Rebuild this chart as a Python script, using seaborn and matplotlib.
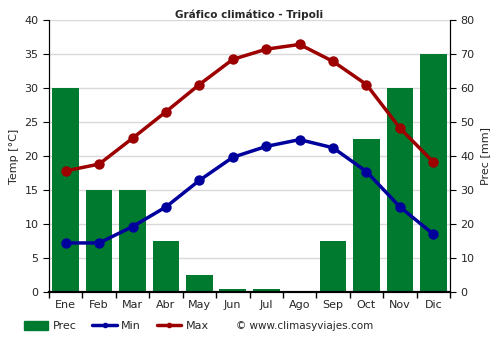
import matplotlib
matplotlib.use("Agg")
import matplotlib.pyplot as plt
import seaborn as sns
import pandas as pd
import numpy as np
from matplotlib.patches import Patch
from matplotlib.lines import Line2D

months = ["Ene", "Feb", "Mar", "Abr", "May", "Jun", "Jul", "Ago", "Sep", "Oct", "Nov", "Dic"]
prec = [60, 30, 30, 15, 5, 1, 1, 0, 15, 45, 60, 70]
tmin = [7.2, 7.2, 9.6, 12.5, 16.4, 19.8, 21.4, 22.4, 21.2, 17.7, 12.5, 8.5]
tmax = [17.8, 18.8, 22.6, 26.5, 30.5, 34.2, 35.7, 36.4, 33.9, 30.5, 24.1, 19.1]

df = pd.DataFrame({"Mes": months, "Prec": prec, "Min": tmin, "Max": tmax})

sns.set_style("white")
plt.rcParams["font.family"] = ["DejaVu Sans"]

fig = plt.figure(figsize=(5, 3.5), dpi=100)
ax_t = fig.add_axes([0.098, 0.166, 0.802, 0.777])
ax_p = ax_t.twinx()

green = "#007a2f"
blue = "#00009c"
red = "#9c0000"

# bars on prec axis (drawn below)
sns.barplot(data=df, x="Mes", y="Prec", ax=ax_p, color=green, width=0.8,
            saturation=1, order=months, linewidth=0, edgecolor=green)
ax_p.set_ylim(0, 80)
ax_p.set_yticks(np.arange(0, 81, 10))
ax_p.set_ylabel("Prec [mm]", fontsize=8)
ax_p.set_axisbelow(True)
ax_p.yaxis.grid(True, color="#d9d9d9", lw=1)
ax_p.set_xticks(np.arange(-0.5, 12, 1), minor=True)
ax_p.xaxis.grid(True, which="minor", color="#d9d9d9", lw=1)

# lines on temp axis (drawn above)
ax_t.set_zorder(ax_p.get_zorder() + 1)
ax_t.patch.set_visible(False)
sns.lineplot(data=df, x="Mes", y="Min", ax=ax_t, color=blue, lw=2.5,
             marker="o", markersize=7.5, markeredgewidth=0, sort=False)
sns.lineplot(data=df, x="Mes", y="Max", ax=ax_t, color=red, lw=2.5,
             marker="o", markersize=7.5, markeredgewidth=0, sort=False)
ax_t.set_ylim(0, 40)
ax_t.set_yticks(np.arange(0, 41, 5))
ax_t.set_xlim(-0.5, 11.5)
ax_p.set_xlim(-0.5, 11.5)
ax_t.set_ylabel("Temp [°C]", fontsize=8)
ax_t.set_xlabel("")
ax_p.set_xlabel("")
ax_t.set_xticks(range(12))
ax_t.set_xticklabels(months)
ax_t.set_xticks(np.arange(-0.5, 12, 1), minor=True)
ax_t.tick_params(axis="x", which="major", bottom=True, length=0, labelsize=8, pad=6)
ax_t.tick_params(axis="x", which="minor", bottom=True, length=4, width=1, color="black")
ax_t.tick_params(axis="y", length=4, labelsize=8, color="black", left=True)
ax_p.tick_params(axis="y", length=4, labelsize=8, color="black", right=True)
ax_p.tick_params(axis="x", which="both", length=0, labelbottom=False)

for a in (ax_t, ax_p):
    a.spines["top"].set_visible(False)
    for s in ("left", "right", "bottom"):
        a.spines[s].set_color("black")
ax_t.spines["bottom"].set_linewidth(1.5)
ax_p.spines["bottom"].set_linewidth(1.5)

ax_t.set_title("Gráfico climático - Tripoli", fontsize=7.5, fontweight="bold", pad=-2)

handles = [Patch(color=green, label="Prec"),
           Line2D([0], [0], color=blue, lw=2.5, marker="o", markersize=3, label="Min"),
           Line2D([0], [0], color=red, lw=2.5, marker="o", markersize=3, label="Max")]
fig.legend(handles=handles, loc="center left", bbox_to_anchor=(0.048, 0.068), ncol=3,
           frameon=False, fontsize=8, handlelength=2.2, handleheight=0.9,
           columnspacing=1.4, handletextpad=0.4, borderpad=0, borderaxespad=0)
fig.text(0.473, 0.068, "© www.climasyviajes.com", fontsize=7.5, va="center", ha="left")

fig.savefig("out.png", dpi=100)
